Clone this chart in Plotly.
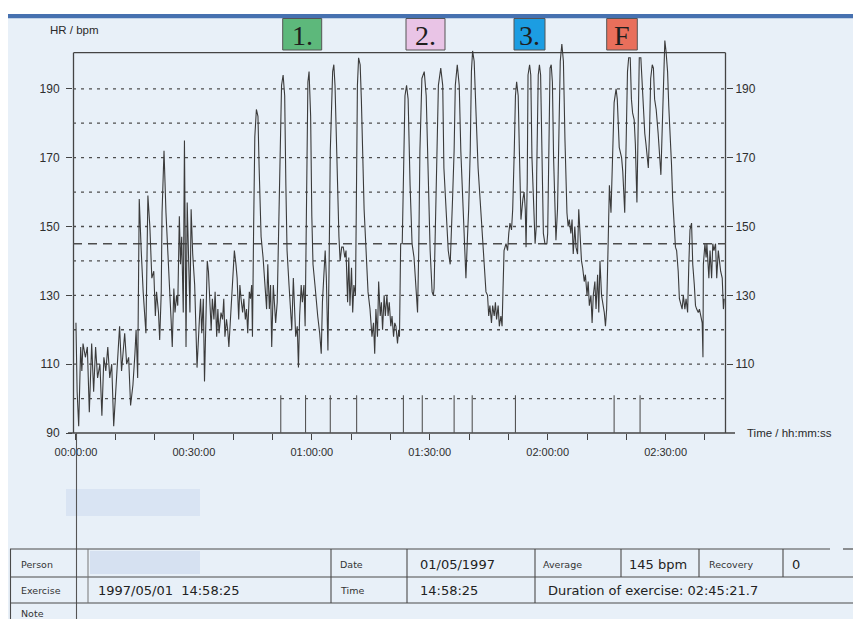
import plotly.graph_objects as go

# ---------------- data ----------------
time_min = [
    0.0, 0.3, 0.7, 1.2, 1.5, 1.8, 2.4, 2.9, 3.4, 4.0, 4.5, 5.0, 5.5, 6.1, 6.6, 7.1, 7.6, 8.1, 8.6, 9.1,
    9.6, 10.1, 10.6, 11.1, 11.6, 11.9, 12.4, 12.9, 13.4, 13.9, 14.5, 15.0, 15.3, 15.7, 16.1, 16.6, 17.1, 17.8, 18.3, 18.8,
    19.3, 19.8, 20.2, 20.5, 21.0, 21.3, 21.7, 21.9, 22.4, 22.9, 23.5, 23.9, 24.2, 24.5, 24.9, 25.2, 25.6, 25.9, 26.3, 26.6,
    26.9, 27.3, 27.6, 28.0, 28.3, 28.6, 29.0, 29.3, 29.7, 30.2, 30.5, 30.8, 31.4, 31.7, 32.0, 32.4, 32.7, 33.1, 33.4, 33.7,
    34.1, 34.4, 34.7, 35.1, 35.4, 35.8, 36.1, 36.4, 36.9, 37.3, 37.6, 37.9, 38.3, 38.6, 38.9, 39.3, 39.7, 40.0, 40.3, 40.7,
    41.0, 41.4, 41.7, 42.0, 42.4, 42.7, 43.1, 43.4, 43.7, 44.1, 44.4, 44.7, 44.9, 45.2, 45.5, 45.9, 46.3, 46.6, 47.1, 47.6,
    48.1, 48.5, 48.8, 49.2, 49.5, 49.8, 50.2, 50.5, 50.8, 51.2, 51.5, 51.9, 52.3, 52.7, 53.1, 53.4, 53.7, 54.2, 54.6, 54.9,
    55.3, 55.6, 55.9, 56.3, 56.6, 56.9, 57.3, 57.6, 58.0, 58.3, 58.6, 59.0, 59.3, 59.7, 60.0, 60.3, 60.8, 61.2, 61.5, 62.0,
    62.4, 62.7, 63.1, 63.4, 63.7, 64.1, 64.4, 64.7, 65.3, 65.6, 65.9, 66.4, 66.9, 67.2, 67.6, 68.0, 68.4, 68.7, 69.1, 69.4,
    69.7, 70.1, 70.4, 70.7, 71.1, 71.3, 71.6, 71.9, 72.3, 72.6, 72.9, 73.3, 73.8, 74.3, 74.8, 75.3, 75.7, 76.0, 76.3, 76.7,
    77.0, 77.4, 77.7, 78.0, 78.4, 78.7, 79.1, 79.4, 79.7, 80.1, 80.4, 80.8, 81.1, 81.4, 81.8, 82.1, 82.3, 82.6, 83.0, 83.3,
    83.7, 84.1, 84.5, 85.0, 85.5, 86.0, 86.5, 86.9, 87.2, 87.5, 88.0, 88.6, 89.1, 89.6, 90.1, 90.6, 90.9, 91.1, 91.6, 92.2,
    92.8, 93.3, 93.6, 94.2, 94.7, 95.2, 95.5, 95.8, 96.2, 96.5, 97.0, 97.5, 97.9, 98.4, 98.9, 99.2, 99.6, 99.9, 100.3, 100.6,
    100.9, 101.3, 101.8, 102.3, 102.8, 103.3, 103.7, 104.0, 104.3, 104.7, 105.0, 105.3, 105.7, 106.0, 106.4, 106.7, 107.0, 107.4, 107.7, 108.1,
    108.4, 108.6, 108.9, 109.4, 109.8, 110.1, 110.4, 110.8, 111.1, 111.5, 111.8, 112.1, 112.5, 112.8, 113.2, 113.7, 114.0, 114.3, 114.5, 114.8,
    115.0, 115.4, 115.7, 116.0, 116.4, 116.8, 117.1, 117.2, 117.6, 117.9, 118.2, 118.6, 118.9, 119.3, 119.8, 120.0, 120.3, 120.6, 120.9, 121.2,
    121.5, 121.8, 122.1, 122.5, 122.8, 123.2, 123.6, 124.0, 124.4, 124.9, 125.2, 125.5, 125.9, 126.2, 126.5, 126.9, 127.2, 127.6, 127.9, 128.3,
    128.6, 128.9, 129.3, 129.6, 130.0, 130.3, 130.6, 131.0, 131.3, 131.6, 132.0, 132.3, 132.7, 133.0, 133.3, 133.7, 134.0, 134.4, 134.7, 135.0,
    135.4, 135.7, 136.1, 136.5, 136.9, 137.4, 137.7, 138.2, 138.8, 139.1, 139.6, 140.0, 140.3, 140.6, 141.0, 141.3, 141.6, 142.0, 142.3, 142.7,
    143.0, 143.3, 143.7, 144.0, 144.4, 144.7, 145.0, 145.6, 145.9, 146.2, 146.6, 146.9, 147.2, 147.6, 148.1, 148.4, 148.8, 149.1, 149.5, 149.8,
    150.1, 150.5, 150.8, 151.2, 151.5, 151.8, 152.2, 152.5, 152.8, 153.2, 153.5, 153.9, 154.2, 154.5, 154.9, 155.2, 155.6, 155.9, 156.2, 156.6,
    156.9, 157.3, 157.6, 157.9, 158.3, 158.6, 159.0, 159.3, 159.5, 159.6, 160.0, 160.3, 160.5, 160.8, 161.0, 161.3, 161.7, 162.0, 162.3, 162.7,
    163.0, 163.4, 163.7, 164.0, 164.4, 164.7, 164.9,
]
hr_bpm = [
    122, 102, 92, 115, 108, 116, 112, 115, 96, 116, 102, 115, 106, 110, 95, 112, 108, 115, 106, 110,
    92, 103, 112, 121, 108, 112, 119, 110, 112, 98, 104, 113, 120, 106, 158, 143, 131, 119, 159, 150,
    135, 137, 124, 131, 125, 117, 131, 154, 172, 154, 137, 130, 123, 115, 132, 125, 130, 127, 153, 139,
    147, 125, 175, 115, 157, 140, 125, 155, 142, 133, 120, 109, 123, 129, 119, 129, 105, 127, 140, 137,
    129, 120, 129, 123, 131, 118, 126, 119, 125, 123, 129, 118, 123, 120, 115, 123, 131, 140, 143, 139,
    135, 123, 133, 129, 125, 129, 123, 126, 119, 131, 129, 133, 118, 150, 176, 184, 182, 167, 147, 141,
    133, 126, 139, 126, 133, 115, 133, 128, 122, 128, 143, 172, 191, 194, 188, 162, 143, 133, 126, 120,
    135, 125, 118, 121, 109, 124, 133, 128, 133, 121, 153, 192, 195, 182, 153, 139, 133, 126, 124, 119,
    113, 128, 139, 143, 135, 114, 139, 172, 195, 197, 191, 167, 147, 140, 144, 144, 141, 143, 128, 141,
    127, 138, 125, 133, 130, 153, 191, 199, 197, 187, 172, 155, 143, 131, 126, 118, 122, 113, 126, 118,
    134, 124, 128, 120, 130, 124, 130, 124, 128, 121, 124, 118, 122, 121, 116, 120, 118, 145, 145, 162,
    188, 191, 187, 162, 145, 141, 133, 125, 143, 172, 193, 195, 188, 162, 143, 131, 130, 132, 158, 191,
    196, 191, 167, 153, 143, 139, 147, 158, 172, 191, 197, 191, 172, 158, 145, 135, 147, 155, 172, 195,
    201, 198, 182, 167, 158, 148, 141, 134, 131, 130, 124, 127, 122, 127, 124, 128, 123, 127, 121, 124,
    121, 130, 143, 145, 143, 148, 151, 149, 155, 172, 188, 192, 188, 172, 152, 158, 160, 155, 144, 163,
    194, 197, 194, 170, 155, 145, 150, 165, 194, 197, 194, 170, 148, 145, 145, 148, 170, 196, 197, 192,
    170, 155, 146, 155, 175, 198, 203, 198, 175, 154, 150, 152, 148, 152, 142, 150, 144, 142, 155, 144,
    140, 138, 134, 136, 130, 134, 127, 130, 122, 130, 134, 126, 136, 125, 140, 130, 128, 125, 121, 126,
    146, 162, 154, 175, 186, 190, 187, 173, 170, 166, 154, 177, 195, 199, 199, 187, 183, 181, 174, 157,
    182, 199, 199, 192, 185, 177, 174, 167, 177, 193, 197, 196, 187, 184, 177, 170, 165, 177, 197, 204,
    201, 195, 185, 177, 168, 158, 147, 144, 143, 137, 129, 127, 126, 130, 126, 129, 125, 139, 149, 151,
    139, 133, 127, 126, 125, 126, 123, 122, 112, 139, 145, 141, 145, 139, 135, 143, 135, 145, 143, 145,
    135, 143, 139, 137, 135, 126, 129,
]
lap_times = [52.1, 58.4, 64.7, 71.4, 83.3, 88.1, 96.2, 100.8, 111.8, 136.9, 143.5]
grid_levels = [100, 110, 120, 130, 140, 150, 160, 170, 180, 190]
average_hr = 145
duration_min = 165.36
x_tick_vals = [0, 10, 20, 30, 40, 50, 60, 70, 80, 90, 100, 110, 120, 130, 140, 150, 160]
x_tick_text = ["00:00:00", "", "", "00:30:00", "", "", "01:00:00", "", "", "01:30:00", "", "",
               "02:00:00", "", "", "02:30:00", ""]
y_tick_left = [90, 110, 130, 150, 170, 190]
y_tick_right = [110, 130, 150, 170, 190]
interval_labels = ["1.", "2.", "3.", "F"]
y_axis_title = "HR / bpm"
x_axis_title = "Time / hh:mm:ss"
table_row1 = ["Person", "", "Date", "01/05/1997", "Average", "145 bpm", "Recovery", "0"]
table_row2 = ["Exercise", "1997/05/01  14:58:25", "Time", "14:58:25", "Duration of exercise: 02:45:21.7"]
table_row3 = ["Note"]

# ---------------- layout geometry / style ----------------
# page body has an 8px margin: the figure starts at window pixel (8, 8)
OFF = 8
WIN_W, WIN_H = 861, 619
W, H = WIN_W - OFF, WIN_H - OFF
PLOT_X0, PLOT_X1 = 73, 726      # window px of plot area
PLOT_Y0, PLOT_Y1 = 34, 433
L, R = PLOT_X0 - OFF, WIN_W - PLOT_X1
T, B = PLOT_Y0 - OFF, WIN_H - PLOT_Y1
PW, PH = PLOT_X1 - PLOT_X0, PLOT_Y1 - PLOT_Y0
BASE = PLOT_Y1
X_RANGE = [-0.75, duration_min]
Y_RANGE = [90, 90 + PH / 3.442]
FRAME_TOP = 200.5
INK = "#3b3b3b"
GRID = "#4d4d4d"
PAGE = "#e8f0f8"
SANS = "Liberation Sans, Arial, sans-serif"
TABLE_FONT = "DejaVu Sans, sans-serif"


def xp(px):
    return (px - PLOT_X0) / PW


def yp(py):
    return (BASE - py) / PH


def val_to_py(v):
    return BASE - (v - Y_RANGE[0]) * 3.442


shapes = []
annotations = []


def rect_px(x0, y0, x1, y1, fill, line_color="rgba(0,0,0,0)", lw=0, layer="above"):
    shapes.append(dict(type="rect", xref="paper", yref="paper", x0=xp(x0), x1=xp(x1),
                       y0=yp(y1), y1=yp(y0), fillcolor=fill,
                       line=dict(color=line_color, width=lw), layer=layer))


def line_px(x0, y0, x1, y1, color, width, dash="solid", layer="above"):
    shapes.append(dict(type="line", xref="paper", yref="paper", x0=xp(x0), x1=xp(x1),
                       y0=yp(y0), y1=yp(y1), line=dict(color=color, width=width, dash=dash),
                       layer=layer))


def text_px(x, y, text, size, family=SANS, color="#2a2a2a", xanchor="left"):
    annotations.append(dict(xref="paper", yref="paper", x=xp(x), y=yp(y), text=text,
                            showarrow=False, xanchor=xanchor, yanchor="middle",
                            font=dict(size=size, family=family, color=color)))


# page: white margin strip + blue band
rect_px(0, 0, WIN_W, 14, "#ffffff")
rect_px(7, 14, WIN_W, 18.3, "#4671b0")

# scan smudges (redacted name)
rect_px(66, 489, 200, 516, "rgba(150,175,220,0.18)", layer="below")
rect_px(90, 551, 200, 574, "rgba(150,175,220,0.22)", layer="below")

# gridlines + average line (data-referenced)
for v in grid_levels:
    shapes.append(dict(type="line", xref="x", yref="y", x0=X_RANGE[0], x1=X_RANGE[1], y0=v, y1=v,
                       line=dict(color=GRID, width=1.3, dash="3px,5px"), layer="below"))
shapes.append(dict(type="line", xref="x", yref="y", x0=X_RANGE[0], x1=X_RANGE[1],
                   y0=average_hr, y1=average_hr,
                   line=dict(color=GRID, width=1.4, dash="9px,6px"), layer="below"))

# frame
top_py = val_to_py(FRAME_TOP)
line_px(73.5, top_py, 73.5, BASE, "#444", 1.3, layer="below")
line_px(725.5, top_py, 725.5, BASE, "#444", 1.3, layer="below")
line_px(73.5, top_py, 725.5, top_py, "#444", 1.3, layer="below")
line_px(68, BASE, 735, BASE, "#444", 1.4, layer="below")
# long vertical scan line below the axis
line_px(76.5, BASE, 76.5, WIN_H, "#555", 1.1)

# interval boxes
box_specs = [(282.7, 321.7, "#5db87b"), (406, 445, "#e9c4e6"), (514, 545, "#1c9de2"), (606.7, 637.3, "#e96f5b")]
for lab, (bx0, bx1, col) in zip(interval_labels, box_specs):
    rect_px(bx0, 18.5, bx1, 50, col, "#555", 1)
    text_px((bx0 + bx1) / 2, 35, lab, 28, "Liberation Serif, Times New Roman, serif", "#1e1e1e", "center")

# axis titles
text_px(48, 30, y_axis_title, 11.5, SANS, "#2a2a2a")
text_px(745, 433, x_axis_title, 11.5, SANS, "#2a2a2a")

# ---------------- table ----------------
TL = "#4a4a4a"
line_px(10, 549, 830, 549, TL, 1.2)
line_px(843, 549, 861, 549, TL, 1.2)
line_px(10, 577, 861, 577, TL, 1.2)
line_px(10, 603, 861, 603, TL, 1.2)
line_px(10.5, 549, 10.5, 619, TL, 1.1)
line_px(88, 549, 88, 603, "#777", 1.0)
for cx in (331, 407, 535):
    line_px(cx, 549, cx, 603, TL, 1.1)
for cx in (621, 699, 783):
    line_px(cx, 549, cx, 577, TL, 1.1)

r1y, r2y, r3y = 564, 590, 613
small, big = 9.5, 13
text_px(19, r1y, table_row1[0], small, TABLE_FONT, "#333")
text_px(338, r1y, table_row1[2], small, TABLE_FONT, "#333")
text_px(418, r1y, table_row1[3], big, TABLE_FONT, "#222")
text_px(541, r1y, table_row1[4], small, TABLE_FONT, "#333")
text_px(627, r1y, table_row1[5], big, TABLE_FONT, "#222")
text_px(707, r1y, table_row1[6], small, TABLE_FONT, "#333")
text_px(790, r1y, table_row1[7], big, TABLE_FONT, "#222")
text_px(19, r2y, table_row2[0], small, TABLE_FONT, "#333")
text_px(96, r2y, table_row2[1], big, TABLE_FONT, "#222")
text_px(338, r2y, table_row2[2], small, TABLE_FONT, "#333")
text_px(418, r2y, table_row2[3], big, TABLE_FONT, "#222")
text_px(546, r2y, table_row2[4], big, TABLE_FONT, "#222")
text_px(19, r3y, table_row3[0], small, TABLE_FONT, "#333")

# ---------------- traces ----------------
fig = go.Figure()
fig.add_trace(go.Scatter(x=time_min, y=hr_bpm, mode="lines",
                         line=dict(color=INK, width=1.1), hoverinfo="skip", showlegend=False))
lap_x, lap_y = [], []
for lt in lap_times:
    lap_x += [lt, lt, None]
    lap_y += [90, 101, None]
fig.add_trace(go.Scatter(x=lap_x, y=lap_y, mode="lines", line=dict(color="#555", width=1.1),
                         hoverinfo="skip", showlegend=False))
fig.add_trace(go.Scatter(x=[time_min[0]], y=[hr_bpm[0]], yaxis="y2", mode="lines",
                         line=dict(width=0), hoverinfo="skip", showlegend=False))

tickfont = dict(size=12, family=SANS, color="#2e2e2e")
fig.update_layout(
    width=W, height=H,
    margin=dict(l=L, r=R, t=T, b=B, autoexpand=False),
    paper_bgcolor=PAGE, plot_bgcolor="rgba(0,0,0,0)",
    showlegend=False,
    xaxis=dict(range=X_RANGE, tickvals=x_tick_vals, ticktext=x_tick_text, ticks="outside",
               ticklen=6, tickwidth=1.2, tickcolor="#444", showgrid=False, zeroline=False,
               showline=False, tickfont=dict(size=11, family=SANS, color="#2e2e2e"),
               ticklabelstandoff=3, fixedrange=True),
    yaxis=dict(range=Y_RANGE, tickvals=y_tick_left, ticks="outside", ticklen=6, tickwidth=1.2,
               tickcolor="#444", showgrid=False, zeroline=False, showline=False,
               tickfont=tickfont, ticklabelstandoff=4, fixedrange=True),
    yaxis2=dict(range=Y_RANGE, overlaying="y", side="right", anchor="x", tickvals=y_tick_right,
                ticks="outside", ticklen=6, tickwidth=1.2, tickcolor="#444", showgrid=False,
                zeroline=False, showline=False, tickfont=tickfont, fixedrange=True),
    shapes=shapes,
    annotations=annotations,
)

fig.write_html("out.html", config={"displayModeBar": False})
